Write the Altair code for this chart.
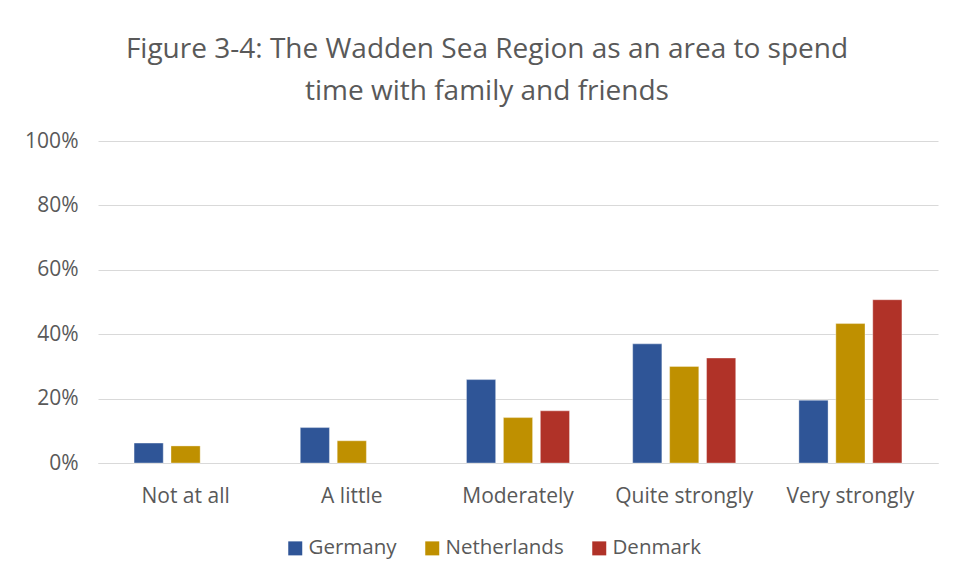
import altair as alt
import pandas as pd

categories = ["Not at all", "A little", "Moderately", "Quite strongly", "Very strongly"]
series = ["Germany", "Netherlands", "Denmark"]
germany = [0.062, 0.110, 0.259, 0.370, 0.195]
netherlands = [0.053, 0.069, 0.141, 0.300, 0.433]
denmark = [None, None, 0.162, 0.326, 0.507]
colors = ["#2F5597", "#BF9000", "#B03228"]

rows = []
for i, c in enumerate(categories):
    for s, vals in zip(series, [germany, netherlands, denmark]):
        if vals[i] is not None:
            rows.append({"category": c, "country": s, "value": vals[i]})
df = pd.DataFrame(rows)

FONT = "Open Sans"
GREY = "#595959"

chart = alt.Chart(df).mark_bar(stroke="white", strokeWidth=0.6, strokeOpacity=0.6).encode(
    x=alt.X("category:N", sort=categories,
            scale=alt.Scale(paddingInner=0.38, paddingOuter=0.217),
            axis=alt.Axis(title=None, labelAngle=0, ticks=False, domainColor="#d9d9d9",
                          domainWidth=1, labelFontSize=21, labelFont=FONT, labelColor=GREY,
                          labelPadding=22)),
    xOffset=alt.XOffset("country:N", sort=series,
                        scale=alt.Scale(paddingInner=0.21, paddingOuter=0)),
    y=alt.Y("value:Q", scale=alt.Scale(domain=[0, 1]),
            axis=alt.Axis(title=None, format=".0%", values=[0, 0.2, 0.4, 0.6, 0.8, 1.0],
                          domain=False, ticks=False, gridColor="#d9d9d9", gridWidth=1,
                          labelFontSize=21, labelFont=FONT, labelColor=GREY,
                          labelPadding=20)),
    color=alt.Color("country:N", sort=series,
                    scale=alt.Scale(domain=series, range=colors),
                    legend=alt.Legend(title=None, orient="none", direction="horizontal",
                                      legendX=187, legendY=397, symbolType="square",
                                      symbolSize=196, symbolStrokeWidth=0,
                                      labelFontSize=20.5, labelFont=FONT, labelColor=GREY,
                                      labelOffset=3, columnPadding=25)),
).properties(
    width=840, height=322,
    title=alt.TitleParams(
        text=["Figure 3-4: The Wadden Sea Region as an area to spend",
              "time with family and friends"],
        font=FONT, fontSize=28, fontWeight="normal", color=GREY,
        anchor="middle", dx=-31, dy=5, offset=1, baseline="bottom", lineHeight=42),
    autosize=alt.AutoSizeParams(type="none"),
    padding={"left": 90, "top": 133, "right": 9, "bottom": 109},
).configure(background="white").configure_view(strokeWidth=0)

chart.save("out.html", embed_options={"renderer": "svg", "actions": False})
